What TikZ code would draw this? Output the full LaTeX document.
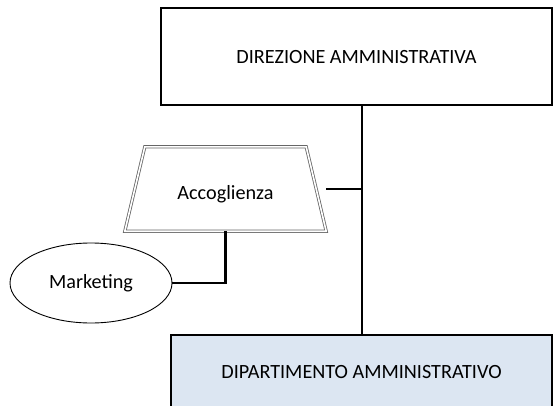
\documentclass[tikz,border=0pt]{standalone}
\usepackage{fontspec}
\setmainfont{Carlito}
\usetikzlibrary{shapes.geometric}
\definecolor{dipblue}{RGB}{220,230,242}
\tikzset{
  txt/.style={font=\fontsize{20.2}{22}\selectfont},
  unit/.style={draw,rectangle,txt,inner sep=0pt},
  link/.style={line width=2.4pt}
}
\begin{document}
\begin{tikzpicture}[x=1pt,y=1pt]
  \useasboundingbox (0,0) rectangle (553,405);
  % boxes
  \node[unit,line width=2pt,minimum width=391pt,text height=56pt,text depth=41pt] (dir) at (356.5,348.5) {DIREZIONE AMMINISTRATIVA};
  \node[unit,line width=1.5pt,fill=dipblue,minimum width=381pt,text height=43pt,text depth=32pt] (dip) at (361.5,32.5) {DIPARTIMENTO AMMINISTRATIVO};
  \node[txt,inner sep=0pt,minimum width=201pt,text height=52pt,text depth=32pt] (acc) at (225.5,216) {Accoglienza};
  \draw[draw=black!60,double,double distance=1.6pt,line width=0.8pt]
    (acc.south west) -- ([xshift=20pt]acc.north west) -- ([xshift=-20pt]acc.north east) -- (acc.south east) -- cycle;
  \node[ellipse,draw,line width=0.9pt,minimum width=162pt,minimum height=80pt,txt] (mkt) at (91,122) {Marketing};

  % connectors
  \coordinate (spine) at (362,300);
  \draw[link] (spine) -- (spine |- dip.north);
  \draw[link] (acc.east) -- (acc.east -| spine);
  \draw[link] (acc.south) |- (mkt.east);
\end{tikzpicture}
\end{document}
